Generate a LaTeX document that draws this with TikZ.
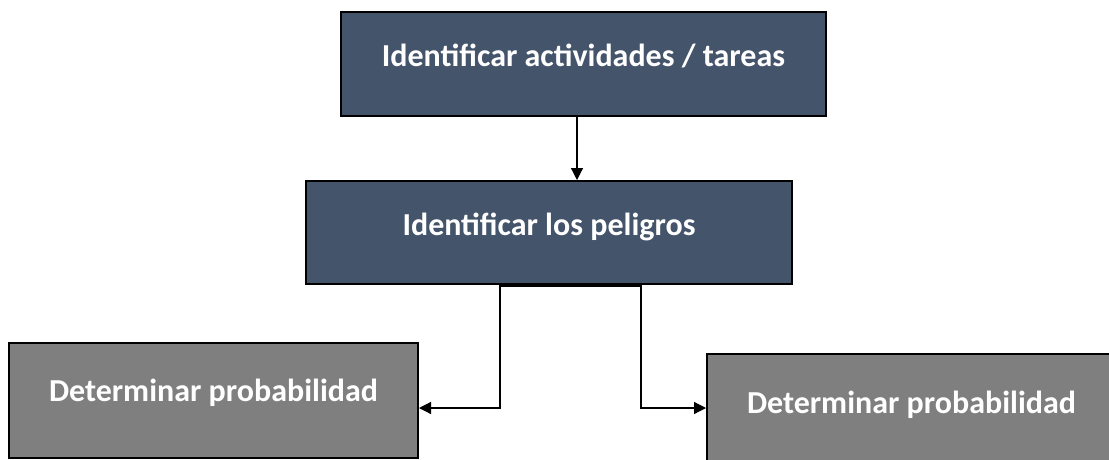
\documentclass[tikz,border=0pt]{standalone}
\usepackage{fontspec}
\setmainfont{Carlito}
\usetikzlibrary{arrows.meta}
\definecolor{slate}{HTML}{44546A}
\definecolor{greybox}{HTML}{7F7F7F}
\tikzset{
  boxbase/.style={draw=black, line width=2pt, text=white, font=\bfseries\fontsize{32}{38}\selectfont, inner sep=0pt, text height=0.75em},
  darkbox/.style={boxbase, fill=slate},
  greybx/.style={boxbase, fill=greybox},
  conn/.style={line width=1.2pt, draw=black},
  tip/.style={-{Triangle[length=12pt,width=12pt]}}
}
\begin{document}
\begin{tikzpicture}[x=1pt,y=-1pt]
\useasboundingbox (0,0) rectangle (1109,459);
\clip (0,0) rectangle (1109,459);
\node[darkbox, minimum width=485pt, minimum height=104pt, text depth=0.25em+1pt] (top) at (583.5,64) {Identificar actividades / tareas};
\node[darkbox, minimum width=486pt, minimum height=103pt, text depth=0.25em] (mid) at (549,232.5) {Identificar los peligros};
\node[greybx, minimum width=409pt, minimum height=115pt, text depth=0.25em+3pt] (left) at (213.5,400.5) {Determinar probabilidad};
\node[greybx, minimum width=409pt, minimum height=115pt, text depth=0.25em+1pt] (right) at (911.5,411.5) {Determinar probabilidad};
\draw[conn, tip] ([xshift=-6.5pt]top.south) -- ([xshift=-6.5pt]top.south |- mid.north);
\draw[conn, tip] ([xshift=29pt]mid.south) |- (500,286) |- ([yshift=-7.5pt]left.east);
\draw[conn, tip] ([xshift=29pt]mid.south) |- (641,286) |- ([yshift=3.5pt]right.west);
\end{tikzpicture}
\end{document}
